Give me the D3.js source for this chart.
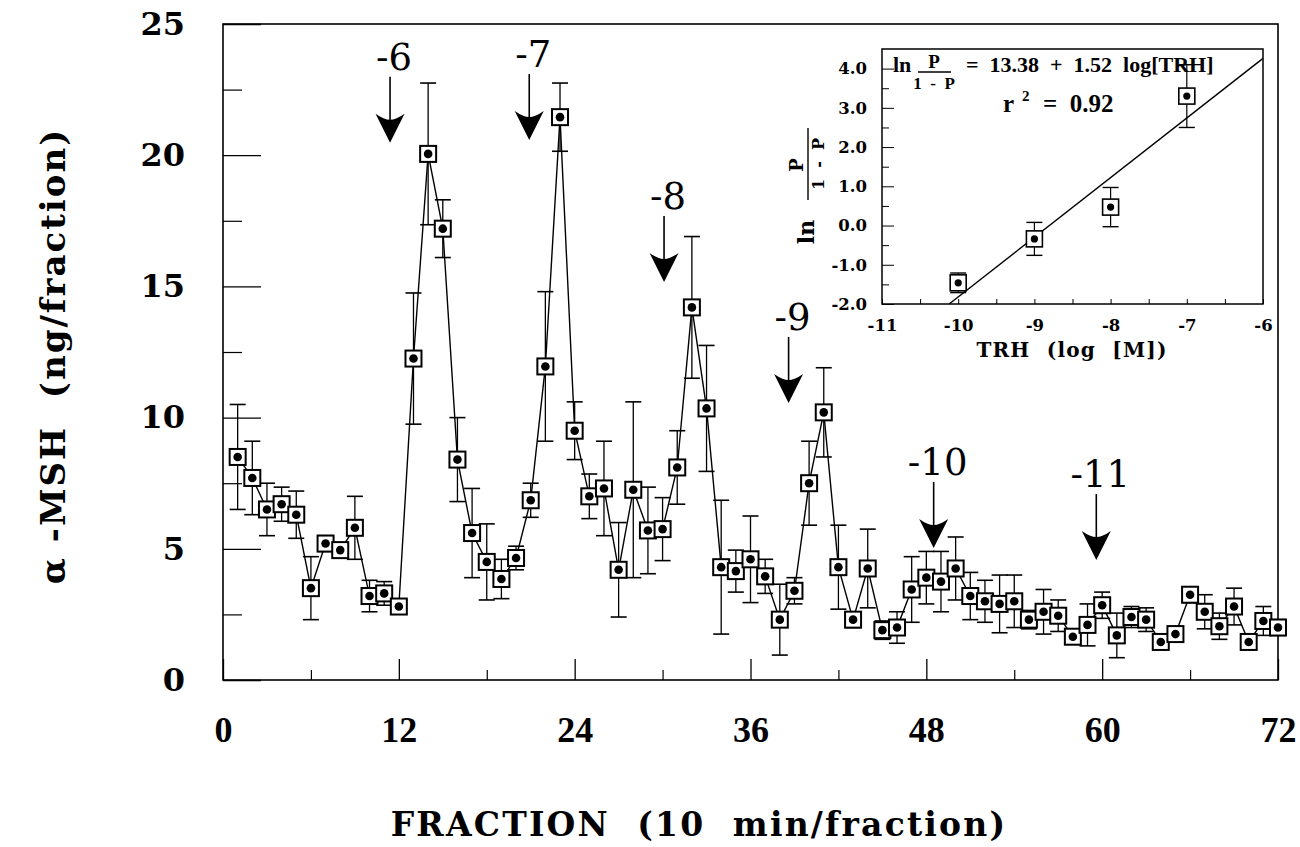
<!DOCTYPE html>
<html><head><meta charset="utf-8">
<script src="https://cdn.jsdelivr.net/npm/d3@7"></script>
<style>html,body{margin:0;padding:0;background:#fff;} svg{display:block;} text{white-space:pre;}</style>
</head><body><svg id="c" width="1300" height="847"></svg>
<script>
// ---------- data ----------
const fraction = [1,2,3,4,5,6,7,8,9,10,11,12,13,14,15,16,17,18,19,20,21,22,23,24,25,26,27,28,29,30,31,32,33,34,35,36,
  37,38,39,40,41,42,43,44,45,46,47,48,49,50,51,52,53,54,55,56,57,58,59,60,61,62,63,64,65,66,67,68,69,70,71,72];
const msh = [8.5,7.7,6.5,6.7,6.3,3.5,5.2,4.95,5.8,3.2,3.3,2.8,12.25,20.05,17.2,8.4,5.6,4.5,3.85,4.65,6.85,11.95,21.45,9.5,
  7.0,7.3,4.2,7.25,5.7,5.75,8.1,14.2,10.35,4.3,4.15,4.6,3.95,2.3,3.4,7.5,10.2,4.3,2.3,4.25,1.9,2.0,3.45,3.9,3.75,4.25,
  3.2,3.0,2.9,3.0,2.3,2.6,2.45,1.65,2.1,2.85,1.7,2.4,2.3,1.45,1.75,3.25,2.6,2.05,2.8,1.45,2.25,2.0];
const mshErr = [2.0,1.4,1.0,0.65,0.9,1.2,0.3,0.2,1.2,0.6,0.45,0.2,2.5,2.7,1.1,1.6,1.7,1.45,0.75,0.45,0.65,2.85,1.3,1.1,
  0.85,1.8,1.8,3.35,1.65,1.2,1.4,2.7,2.4,2.55,0.8,1.65,0.65,1.35,0.5,1.6,1.7,1.6,0.3,1.5,0.35,0.6,1.25,1.0,1.15,1.2,
  0.9,0.8,1.1,1.0,0.35,0.85,0.6,0.2,0.8,0.5,0.85,0.4,0.45,0.15,0.2,0.3,0.65,0.5,0.7,0.15,0.55,0.3];
const xTicks = [0,12,24,36,48,60,72];
const xMinorTicks = [6,18,30,42,54,66];
const yTicks = [0,5,10,15,20,25];
const yMinorTicks = [2.5,7.5,12.5,17.5,22.5];
const arrowLabels = ["-6","-7","-8","-9","-10","-11"];
const arrowFraction = [11.4,20.9,30.1,38.6,48.5,59.6];
const arrowTip = [20.47,20.58,15.17,10.56,5.03,4.57];

const insetX = [-10,-9,-8,-7];
const insetY = [-1.46,-0.34,0.47,3.3];
const insetErr = [0.25,0.42,0.5,0.8];
const insetXTicks = [-11,-10,-9,-8,-7,-6];
const insetXTickLabels = ["-11","-10","-9","-8","-7","-6"];
const insetXMinor = [-10.5,-9.5,-8.5,-7.5,-6.5];
const insetYTicks = [-2,-1,0,1,2,3,4];
const insetYTickLabels = ["-2.0","-1.0","0.0","1.0","2.0","3.0","4.0"];
const insetYMinor = [-1.5,-0.5,0.5,1.5,2.5,3.5];
const fitIntercept = 13.38, fitSlope = 1.52;

// ---------- chart ----------
const svg = d3.select("#c");
const x = d3.scaleLinear().domain([0,72]).range([223,1278]);
const y = d3.scaleLinear().domain([0,25]).range([680,24]);
const TICKF = "'DejaVu Serif', serif";

// frame
svg.append("rect").attr("x",223).attr("y",24).attr("width",1055).attr("height",656)
  .attr("fill","none").attr("stroke","#000").attr("stroke-width",1.6);

// x axis
const gx = svg.append("g").attr("transform","translate(0,680)")
  .call(d3.axisBottom(x).tickValues(xTicks).tickFormat(d3.format("d")).tickSizeInner(-21).tickSizeOuter(0).tickPadding(36));
gx.select(".domain").remove();
gx.selectAll("line").attr("stroke-width",1.3);
gx.selectAll("text").attr("font-family","'Liberation Serif', serif").attr("font-weight","bold").attr("font-size",36).attr("fill","#000");
const gx2 = svg.append("g").attr("transform","translate(0,680)")
  .call(d3.axisBottom(x).tickValues(xMinorTicks).tickFormat("").tickSizeInner(-10).tickSizeOuter(0));
gx2.select(".domain").remove();
gx2.selectAll("line").attr("stroke-width",1.2);

// y axis
const gy = svg.append("g").attr("transform","translate(223,0)")
  .call(d3.axisLeft(y).tickValues(yTicks).tickFormat(d3.format("d")).tickSizeInner(-38).tickSizeOuter(0).tickPadding(38));
gy.select(".domain").remove();
gy.selectAll("line").attr("stroke-width",1.3);
gy.selectAll("text").attr("font-family",TICKF).attr("font-weight","bold").attr("font-size",32).attr("fill","#000");
const gy2 = svg.append("g").attr("transform","translate(223,0)")
  .call(d3.axisLeft(y).tickValues(yMinorTicks).tickFormat("").tickSizeInner(-19).tickSizeOuter(0));
gy2.select(".domain").remove();
gy2.selectAll("line").attr("stroke-width",1.2);

// axis titles
svg.append("text").attr("transform","translate(65,356) rotate(-90)").attr("text-anchor","middle")
  .attr("font-family",TICKF).attr("font-weight","bold").attr("font-size",34).attr("letter-spacing",2)
  .text("α -MSH  (ng/fraction)");
svg.append("text").attr("x",699).attr("y",836).attr("text-anchor","middle")
  .attr("font-family",TICKF).attr("font-weight","bold").attr("font-size",33).attr("letter-spacing",2.2)
  .text("FRACTION  (10  min/fraction)");

// data
const pts = fraction.map((f,i)=>({f, v:msh[i], e:mshErr[i]}));
svg.append("path").datum(pts).attr("fill","none").attr("stroke","#000").attr("stroke-width",1.4)
  .attr("d", d3.line().x(d=>x(d.f)).y(d=>y(d.v)));
const eb = svg.append("g").attr("stroke","#000").attr("stroke-width",1.3);
pts.forEach(d=>{
  const cx = x(d.f);
  eb.append("line").attr("x1",cx).attr("x2",cx).attr("y1",y(d.v+d.e)).attr("y2",y(d.v-d.e));
  eb.append("line").attr("x1",cx-8).attr("x2",cx+8).attr("y1",y(d.v+d.e)).attr("y2",y(d.v+d.e)).attr("stroke-width",1.6);
  eb.append("line").attr("x1",cx-8).attr("x2",cx+8).attr("y1",y(d.v-d.e)).attr("y2",y(d.v-d.e)).attr("stroke-width",1.6);
});
const mk = svg.append("g");
mk.selectAll("rect").data(pts).join("rect")
  .attr("x",d=>x(d.f)-8).attr("y",d=>y(d.v)-8).attr("width",16).attr("height",16)
  .attr("fill","#fff").attr("stroke","#000").attr("stroke-width",2);
mk.selectAll("circle").data(pts).join("circle")
  .attr("cx",d=>x(d.f)).attr("cy",d=>y(d.v)).attr("r",4.3).attr("fill","#000");

// arrows
const ag = svg.append("g");
arrowLabels.forEach((lab,i)=>{
  const ax = x(arrowFraction[i]), tip = y(arrowTip[i]);
  ag.append("line").attr("x1",ax).attr("x2",ax).attr("y1",tip-66).attr("y2",tip-20)
    .attr("stroke","#000").attr("stroke-width",1.6);
  ag.append("path").attr("fill","#000")
    .attr("d",`M${ax},${tip} L${ax-14.5},${tip-29} Q${ax-6},${tip-23} ${ax},${tip-23} Q${ax+6},${tip-23} ${ax+14.5},${tip-29} Z`);
  ag.append("text").attr("x",ax+4).attr("y",tip-73).attr("text-anchor","middle")
    .attr("font-family",TICKF).attr("font-size",37).text(lab);
});

// ---------- inset ----------
const xi = d3.scaleLinear().domain([-11,-6]).range([882,1263]);
const yi = d3.scaleLinear().domain([-2,4.5]).range([304,49]);
const ins = svg.append("g");
ins.append("rect").attr("x",882).attr("y",49).attr("width",381).attr("height",255)
  .attr("fill","#fff").attr("stroke","#000").attr("stroke-width",1.5);
const ix = ins.append("g").attr("transform","translate(0,304)")
  .call(d3.axisBottom(xi).tickValues(insetXTicks).tickFormat((d,i)=>insetXTickLabels[i]).tickSizeInner(-5).tickSizeOuter(0).tickPadding(15));
ix.select(".domain").remove();
ix.selectAll("text").attr("font-family",TICKF).attr("font-weight","bold").attr("font-size",16.5).attr("fill","#000");
const ix2 = ins.append("g").attr("transform","translate(0,304)")
  .call(d3.axisBottom(xi).tickValues(insetXMinor).tickFormat("").tickSizeInner(-5).tickSizeOuter(0));
ix2.select(".domain").remove();
const iy = ins.append("g").attr("transform","translate(882,0)")
  .call(d3.axisLeft(yi).tickValues(insetYTicks).tickFormat((d,i)=>insetYTickLabels[i]).tickSizeInner(-12).tickSizeOuter(0).tickPadding(15));
iy.select(".domain").remove();
iy.selectAll("text").attr("font-family",TICKF).attr("font-weight","bold").attr("font-size",16.5).attr("fill","#000");
const iy2 = ins.append("g").attr("transform","translate(882,0)")
  .call(d3.axisLeft(yi).tickValues(insetYMinor).tickFormat("").tickSizeInner(-7).tickSizeOuter(0));
iy2.select(".domain").remove();

// fit line
const x0 = (-2 - fitIntercept)/fitSlope;
ins.append("line").attr("x1",xi(x0)).attr("y1",yi(-2)).attr("x2",xi(-6)).attr("y2",yi(fitIntercept+fitSlope*-6))
  .attr("stroke","#000").attr("stroke-width",1.4);

// inset points
insetX.forEach((xv,i)=>{
  const cx = xi(xv), cy = yi(insetY[i]), t = yi(insetY[i]+insetErr[i]), b = yi(insetY[i]-insetErr[i]);
  ins.append("line").attr("x1",cx).attr("x2",cx).attr("y1",t).attr("y2",b).attr("stroke","#000").attr("stroke-width",1.2);
  ins.append("line").attr("x1",cx-8).attr("x2",cx+8).attr("y1",t).attr("y2",t).attr("stroke","#000").attr("stroke-width",1.4);
  ins.append("line").attr("x1",cx-8).attr("x2",cx+8).attr("y1",b).attr("y2",b).attr("stroke","#000").attr("stroke-width",1.4);
  ins.append("rect").attr("x",cx-8).attr("y",cy-8).attr("width",16).attr("height",16)
    .attr("fill","#fff").attr("stroke","#000").attr("stroke-width",1.6);
  ins.append("circle").attr("cx",cx).attr("cy",cy).attr("r",3.6).attr("fill","#000");
});

// equation
const EQF = "'Liberation Serif', serif";
const eq = ins.append("g").attr("font-family",EQF).attr("font-weight","bold").attr("fill","#000");
eq.append("text").attr("x",893).attr("y",72).attr("font-size",22).text("ln");
eq.append("text").attr("x",934).attr("y",68).attr("text-anchor","middle").attr("font-size",19).text("P");
eq.append("line").attr("x1",918).attr("x2",951).attr("y1",72).attr("y2",72).attr("stroke","#000").attr("stroke-width",1.3);
eq.append("text").attr("x",934).attr("y",89).attr("text-anchor","middle").attr("font-size",17).text("1  -  P");
eq.append("text").attr("x",966).attr("y",72).attr("font-size",22).text("=  13.38  +  1.52  log[TRH]");
eq.append("text").attr("x",1003).attr("y",112).attr("font-size",25).text("r");
eq.append("text").attr("x",1022).attr("y",101).attr("font-size",15).text("2");
eq.append("text").attr("x",1043).attr("y",112).attr("font-size",25).text("=  0.92");

// inset y title (rotated)
const yt = ins.append("g").attr("transform","rotate(-90)").attr("font-family",TICKF).attr("font-weight","bold");
yt.append("text").attr("x",-232).attr("y",814).attr("text-anchor","middle").attr("font-size",22).text("ln");
yt.append("text").attr("x",-165).attr("y",803).attr("text-anchor","middle").attr("font-size",18).text("P");
yt.append("line").attr("x1",-200).attr("x2",-128).attr("y1",808).attr("y2",808).attr("stroke","#000").attr("stroke-width",1.4);
yt.append("text").attr("x",-164).attr("y",824).attr("text-anchor","middle").attr("font-size",16).text("1  -  P");

// inset x title
ins.append("text").attr("x",1072).attr("y",357).attr("text-anchor","middle")
  .attr("font-family",TICKF).attr("font-weight","bold").attr("font-size",20).attr("letter-spacing",1.2)
  .text("TRH  (log  [M])");
</script>
</body></html>
